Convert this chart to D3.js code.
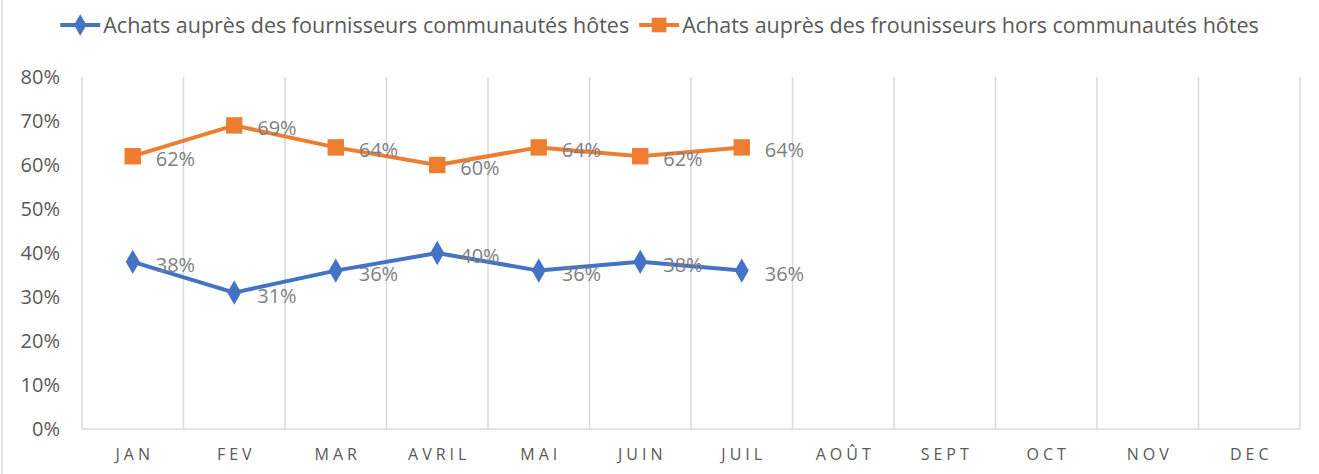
<!DOCTYPE html>
<html>
<head>
<meta charset="utf-8">
<script src="https://cdn.jsdelivr.net/npm/d3@7"></script>
<style>
  body { margin: 0; background: #fff; }
  svg text { font-family: 'Open Sans', sans-serif; }
</style>
</head>
<body>
<div id="chart-area"></div>
<script>
var months = ['JAN', 'FEV', 'MAR', 'AVRIL', 'MAI', 'JUIN', 'JUIL', 'AOÛT', 'SEPT', 'OCT', 'NOV', 'DEC']
var hotes = [0.38, 0.31, 0.36, 0.40, 0.36, 0.38, 0.36]
var horsHotes = [0.62, 0.69, 0.64, 0.60, 0.64, 0.62, 0.64]
var yTicks = [0, 0.1, 0.2, 0.3, 0.4, 0.5, 0.6, 0.7, 0.8]
var seriesNames = ['Achats auprès des fournisseurs communautés hôtes', 'Achats auprès des frounisseurs hors communautés hôtes']

var W = 1319, H = 474
var margin = { top: 77, left: 82, bottom: 45, right: 19 }
var width = W - margin.left - margin.right
var height = H - margin.top - margin.bottom

var svg = d3.select('#chart-area').append('svg')
    .attr('width', W)
    .attr('height', H)

svg.append('rect')
    .attr('x', 2).attr('y', -2)
    .attr('width', W + 10).attr('height', H + 10)
    .attr('fill', 'none').attr('stroke', '#d9d9d9').attr('stroke-width', 1.5)

var g = svg.append('g').attr('transform', `translate(${margin.left}, ${margin.top})`)

var x = d3.scaleBand().domain(months).range([0, width])
var y = d3.scaleLinear().domain([0, 0.8]).range([height, 0])

// vertical grid lines between categories
var edges = months.map(d => x(d)).concat([width])
g.selectAll('.grid').data(edges).enter().append('line')
    .attr('class', 'grid')
    .attr('x1', d => d).attr('x2', d => d)
    .attr('y1', 0).attr('y2', height)
    .attr('stroke', '#d9d9d9').attr('stroke-width', 1.5)

g.append('line')
    .attr('x1', 0).attr('x2', width)
    .attr('y1', height).attr('y2', height)
    .attr('stroke', '#d9d9d9').attr('stroke-width', 1.5)

// y axis
var yAxis = g.append('g').call(d3.axisLeft(y).tickValues(yTicks).tickFormat(d3.format('.0%')).tickSize(0).tickPadding(22))
yAxis.select('.domain').remove()
yAxis.attr('font-family', null).attr('font-size', null)
yAxis.selectAll('text').style('font-size', '20px').attr('fill', '#595959')

// x axis
var xAxis = g.append('g').attr('transform', `translate(0, ${height})`)
    .call(d3.axisBottom(x).tickSize(0).tickPadding(20))
xAxis.select('.domain').remove()
xAxis.attr('font-family', null).attr('font-size', null)
xAxis.selectAll('text').style('font-size', '16px').attr('fill', '#595959')
    .attr('letter-spacing', '4px').attr('dx', '2px')

var line = d3.line()
    .x((d, i) => x(months[i]) + x.bandwidth() / 2)
    .y(d => y(d))

var series = [
  { name: seriesNames[0], values: hotes, color: '#4472c4', shape: d3.symbolDiamond, size: 170 },
  { name: seriesNames[1], values: horsHotes, color: '#ed7d31', shape: d3.symbolSquare, size: 270 }
]

series.forEach(s => {
  g.append('path')
      .datum(s.values)
      .attr('fill', 'none')
      .attr('stroke', s.color)
      .attr('stroke-width', 4)
      .attr('stroke-linejoin', 'round')
      .attr('d', line)

  g.selectAll(null).data(s.values).enter().append('path')
      .attr('d', d3.symbol().type(s.shape).size(s.size))
      .attr('transform', (d, i) => `translate(${x(months[i]) + x.bandwidth() / 2}, ${y(d)})`)
      .attr('fill', s.color)

  g.selectAll(null).data(s.values).enter().append('text')
      .attr('x', (d, i) => x(months[i]) + x.bandwidth() / 2 + 23)
      .attr('y', d => y(d) + 10)
      .style('font-size', '20px')
      .attr('fill', '#7f7f7f')
      .text(d => d3.format('.0%')(d))
})

// legend, centred at the top
var legend = svg.append('g').attr('transform', 'translate(0, 25)')
var items = series.map(s => {
  var lg = legend.append('g')
  lg.append('line').attr('x1', 0).attr('x2', 40).attr('y1', 0).attr('y2', 0)
      .attr('stroke', s.color).attr('stroke-width', 4)
  lg.append('path').attr('d', d3.symbol().type(s.shape).size(s.size * 0.8))
      .attr('transform', 'translate(20, 0)').attr('fill', s.color)
  var t = lg.append('text').attr('x', 43).attr('y', 8)
      .style('font-size', '21.5px').attr('fill', '#595959')
      .text(s.name)
  return { g: lg, w: 43 + t.node().getComputedTextLength() }
})
var gap = 10
var total = d3.sum(items, d => d.w) + gap * (items.length - 1)
var cx = W / 2 - total / 2
items.forEach(it => {
  it.g.attr('transform', `translate(${cx}, 0)`)
  cx += it.w + gap
})
</script>
</body>
</html>
